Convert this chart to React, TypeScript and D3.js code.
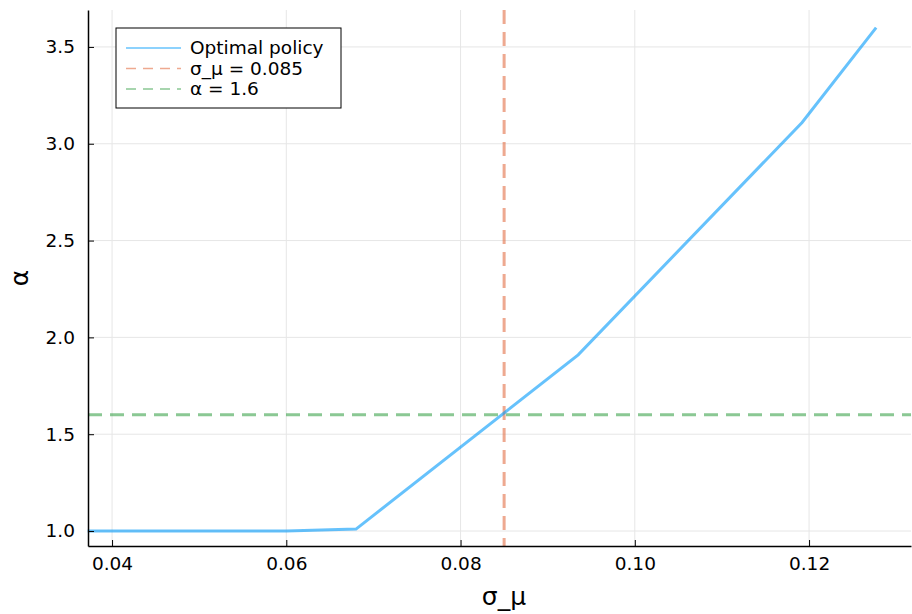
import React, { useRef, useEffect } from "react";
import * as d3 from "d3";

// sigma_mu values and optimal alpha
const SIGMA = [0.0372, 0.06, 0.068, 0.0935, 0.1192, 0.1277];
const ALPHA = [1.0, 1.0, 1.01, 1.91, 3.11, 3.6];
const X_TICKS = [0.04, 0.06, 0.08, 0.1, 0.12];
const Y_TICKS = [1.0, 1.5, 2.0, 2.5, 3.0, 3.5];
const VLINE = 0.085;
const HLINE = 1.6;
const LEGEND = ["Optimal policy", "σ_μ = 0.085", "α = 1.6"];

const BLUE = "#009afa";
const ORANGE = "#e26f46";
const GREEN = "#3da44d";

export default function App() {
  const svgRef = useRef<SVGSVGElement | null>(null);

  useEffect(() => {
    const width = 912;
    const height = 614;
    const margin = { top: 10, right: 1, bottom: 68, left: 88 };
    const font = "DejaVu Sans, sans-serif";

    const svg = d3.select(svgRef.current).attr("width", width).attr("height", height);
    svg.selectAll("*").remove();

    const x = d3.scaleLinear().domain([0.03724, 0.1317]).range([margin.left, width - margin.right]);
    const y = d3.scaleLinear().domain([0.9227, 3.6907]).range([height - margin.bottom, margin.top]);

    // grid
    const grid = svg.append("g").attr("stroke", "#e6e6e6").attr("stroke-width", 1);
    X_TICKS.forEach((t) => {
      grid.append("line")
        .attr("x1", x(t)).attr("x2", x(t))
        .attr("y1", margin.top).attr("y2", height - margin.bottom);
    });
    Y_TICKS.forEach((t) => {
      grid.append("line")
        .attr("x1", margin.left).attr("x2", width - margin.right)
        .attr("y1", y(t)).attr("y2", y(t));
    });

    // reference lines
    svg.append("line")
      .attr("x1", x(VLINE)).attr("x2", x(VLINE))
      .attr("y1", margin.top).attr("y2", height - margin.bottom)
      .attr("stroke", ORANGE).attr("stroke-opacity", 0.6)
      .attr("stroke-width", 3).attr("stroke-dasharray", "14,8");
    svg.append("line")
      .attr("x1", margin.left).attr("x2", width - margin.right)
      .attr("y1", y(HLINE)).attr("y2", y(HLINE))
      .attr("stroke", GREEN).attr("stroke-opacity", 0.6)
      .attr("stroke-width", 3).attr("stroke-dasharray", "14,8");

    // policy line
    const line = d3.line<number>()
      .x((_, i) => x(SIGMA[i]))
      .y((d) => y(d));
    svg.append("path")
      .datum(ALPHA)
      .attr("d", line)
      .attr("fill", "none")
      .attr("stroke", BLUE)
      .attr("stroke-opacity", 0.6)
      .attr("stroke-width", 3);

    // axes (ticks point inward)
    const xAxis = svg.append("g")
      .attr("transform", `translate(0,${height - margin.bottom})`)
      .call(d3.axisBottom(x).tickValues(X_TICKS).tickSizeInner(-6).tickSizeOuter(0).tickPadding(11)
        .tickFormat((d) => (d as number).toFixed(2)));
    const yAxis = svg.append("g")
      .attr("transform", `translate(${margin.left},0)`)
      .call(d3.axisLeft(y).tickValues(Y_TICKS).tickSizeInner(-6).tickSizeOuter(0).tickPadding(13)
        .tickFormat((d) => (d as number).toFixed(1)));
    [xAxis, yAxis].forEach((g) => {
      g.attr("font-size", null).attr("font-family", null);
      g.select(".domain").attr("stroke", "#000").attr("stroke-width", 1.5);
      g.selectAll(".tick line").attr("stroke", "#000").attr("stroke-width", 1);
      g.selectAll(".tick text").attr("fill", "#000").style("font-family", font).style("font-size", "18.5px");
    });

    // axis labels
    svg.append("text")
      .attr("x", 504)
      .attr("y", 605)
      .attr("text-anchor", "middle")
      .style("font-family", font).style("font-size", "25px")
      .text("σ_μ");
    svg.append("text")
      .attr("transform", `translate(28,${(margin.top + height - margin.bottom) / 2}) rotate(-90)`)
      .attr("text-anchor", "middle")
      .style("font-family", font).style("font-size", "25px")
      .text("α");

    // legend
    const lg = svg.append("g").attr("transform", "translate(116,28)");
    lg.append("rect")
      .attr("width", 225).attr("height", 80)
      .attr("fill", "#fff").attr("stroke", "#000").attr("stroke-width", 1);
    const colors = [BLUE, ORANGE, GREEN];
    LEGEND.forEach((label, i) => {
      const ly = 20 + i * 20.5;
      lg.append("line")
        .attr("x1", 10).attr("x2", 65).attr("y1", ly).attr("y2", ly)
        .attr("stroke", colors[i]).attr("stroke-opacity", 0.6).attr("stroke-width", 1.5)
        .attr("stroke-dasharray", i === 0 ? null : "10,7");
      lg.append("text")
        .attr("x", 74).attr("y", ly + 6)
        .style("font-family", font).style("font-size", "18.5px")
        .text(label);
    });
  }, []);

  return <svg ref={svgRef} style={{ position: "absolute", left: 0, top: 0 }}></svg>;
}
